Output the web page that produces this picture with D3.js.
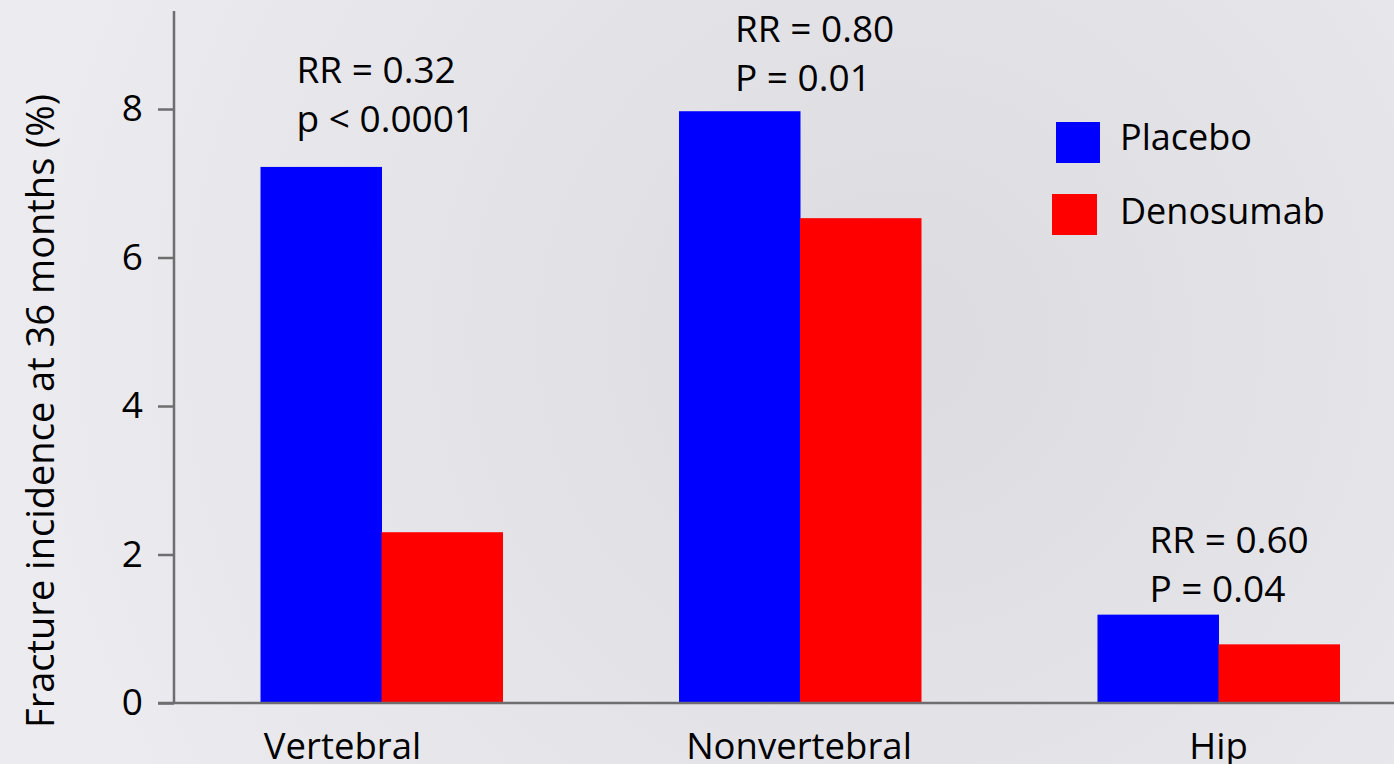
<!DOCTYPE html>
<html>
<head>
<meta charset="utf-8">
<script src="https://cdn.jsdelivr.net/npm/d3@7"></script>
<style>
  html, body { margin: 0; padding: 0; overflow: hidden; }
  svg { display: block; font-family: "Open Sans", "Noto Sans", sans-serif; }
</style>
</head>
<body>
<svg id="chart" width="1394" height="764"></svg>
<script>
// ---- data ----
const categories = ["Vertebral", "Nonvertebral", "Hip"];
const seriesNames = ["Placebo", "Denosumab"];
const placebo = [7.22, 7.97, 1.19];
const denosumab = [2.3, 6.53, 0.79];
const yTicks = [0, 2, 4, 6, 8];
const annotRR = ["RR = 0.32", "RR = 0.80", "RR = 0.60"];
const annotP = ["p < 0.0001", "P = 0.01", "P = 0.04"];
const yTitle = "Fracture incidence at 36 months (%)";

// ---- layout ----
const W = 1394, H = 764;
const colors = ["#0000ff", "#ff0000"];
const annotLayout = [ {dx: 36, y: 83}, {dx: 56, y: 42}, {dx: 52, y: 553} ];
const catLabelDx = [-39, -1, 0];

const svg = d3.select("#chart");
const defs = svg.append("defs");
const grad = defs.append("radialGradient").attr("id", "bg")
  .attr("gradientUnits", "userSpaceOnUse")
  .attr("cx", 900).attr("cy", 340).attr("r", 900);
grad.append("stop").attr("offset", "0%").attr("stop-color", "#dcdce0");
grad.append("stop").attr("offset", "100%").attr("stop-color", "#ececf0");
svg.append("rect").attr("width", W).attr("height", H).attr("fill", "url(#bg)");

const y = d3.scaleLinear().domain([0, 9.32]).range([703, 11]);
const x = d3.scaleBand().domain(categories).range([176.8, 1423.2])
  .paddingInner(0.4217).paddingOuter(0.2);
const xs = d3.scaleBand().domain(seriesNames).range([0, x.bandwidth()]).padding(0);

const rows = categories.map((c, i) => ({cat: c, values: [placebo[i], denosumab[i]]}));

// bars
const g = svg.append("g");
rows.forEach(r => {
  g.selectAll(null).data(r.values.map((v, j) => ({s: seriesNames[j], v, j})))
    .enter().append("rect")
    .attr("x", d => x(r.cat) + xs(d.s))
    .attr("y", d => y(d.v))
    .attr("width", xs.bandwidth() + 0.5)
    .attr("height", d => y(0) - y(d.v))
    .attr("fill", d => colors[d.j]);
});

// y axis
const axisColor = "#6e6e70";
const yAxis = svg.append("g").attr("transform", "translate(174,0)")
  .call(d3.axisLeft(y).tickValues(yTicks).tickSize(16).tickPadding(15).tickFormat(d3.format("d")));
yAxis.select(".domain").remove();
yAxis.append("line").attr("x1", 0).attr("x2", 0).attr("y1", y.range()[1]).attr("y2", y(0))
  .attr("stroke", axisColor).attr("stroke-width", 2.5);
yAxis.selectAll(".tick line").attr("stroke", axisColor).attr("stroke-width", 2.5);
yAxis.selectAll(".tick text").attr("fill", "#000").style("font-size", "37px")
  .style("font-family", "'Open Sans', sans-serif");

// x axis line
svg.append("line").attr("x1", 158).attr("x2", W).attr("y1", y(0)).attr("y2", y(0))
  .attr("stroke", axisColor).attr("stroke-width", 2.5);

// category labels
svg.selectAll(".cat").data(categories).enter().append("text")
  .attr("x", (d, i) => x(d) + x.bandwidth() / 2 + catLabelDx[i])
  .attr("y", 759).attr("text-anchor", "middle")
  .style("font-size", "36.5px").attr("fill", "#000").text(d => d);

// y title
svg.append("text").attr("transform", "translate(54,411) rotate(-90)")
  .attr("text-anchor", "middle").style("font-size", "38px").attr("fill", "#000").text(yTitle);

// annotations
categories.forEach((c, i) => {
  const ax = x(c) + annotLayout[i].dx;
  svg.append("text").attr("x", ax).attr("y", annotLayout[i].y)
    .style("font-size", "37px").attr("fill", "#000").text(annotRR[i]);
  svg.append("text").attr("x", ax).attr("y", annotLayout[i].y + 49)
    .style("font-size", "37px").attr("fill", "#000").text(annotP[i]);
});

// legend
const leg = svg.append("g");
const legLayout = [ {x: 1056, y: 122, w: 44, h: 41, ty: 150}, {x: 1052, y: 194, w: 45, h: 41, ty: 224} ];
seriesNames.forEach((s, i) => {
  leg.append("rect").attr("x", legLayout[i].x).attr("y", legLayout[i].y)
    .attr("width", legLayout[i].w).attr("height", legLayout[i].h).attr("fill", colors[i]);
  leg.append("text").attr("x", 1120).attr("y", legLayout[i].ty)
    .style("font-size", "36px").attr("fill", "#000").text(s);
});
</script>
</body>
</html>
